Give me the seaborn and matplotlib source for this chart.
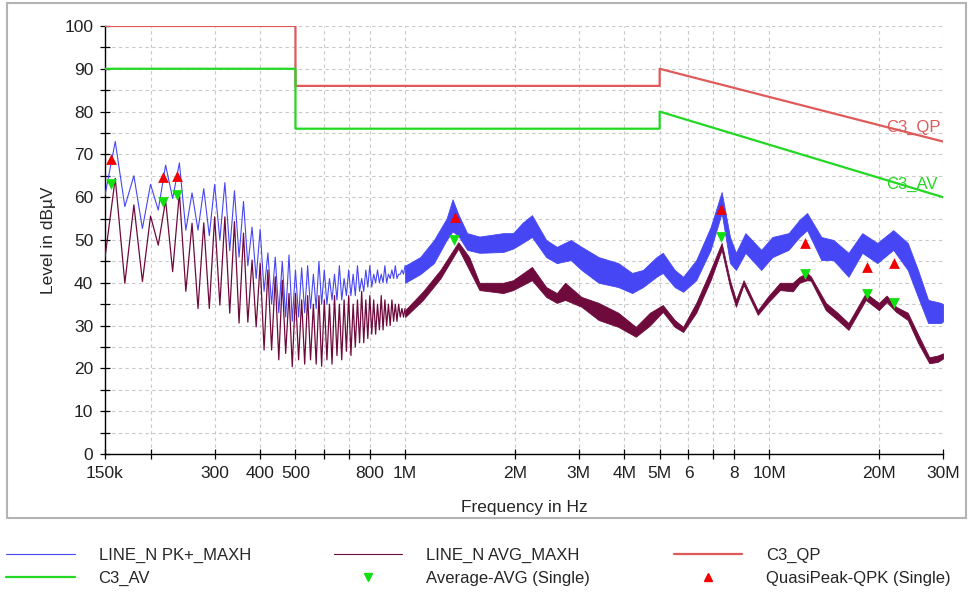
import numpy as np
import pandas as pd
import seaborn as sns
import matplotlib.pyplot as plt
from matplotlib.lines import Line2D
from matplotlib.patches import Rectangle
from matplotlib.ticker import FixedLocator, NullLocator

# --- data --------------------------------------------------------------
# harmonic comb region (150 kHz - 1 MHz), alternating troughs / peaks
comb_khz = [150, 160, 170, 180, 190, 200, 210, 220, 230, 240,
            250, 260, 270, 280, 290, 300, 310, 320, 330, 340,
            350, 360, 370, 380, 390, 400, 410, 420, 430, 440,
            450, 460, 470, 480, 490, 500, 510, 520, 530, 540,
            550, 560, 570, 580, 590, 600, 610, 620, 630, 640,
            650, 660, 670, 680, 690, 700, 710, 720, 730, 740,
            750, 760, 770, 780, 790, 800, 810, 820, 830, 840,
            850, 860, 870, 880, 890, 900, 910, 920, 930, 940,
            950, 960, 970, 980, 990, 1000]
pk_comb_db = [60.5, 73, 57.8, 65, 52.7, 63, 57, 67.5, 59.7, 68,
              52.3, 61, 52.3, 62, 51, 63, 50, 63.4, 47.5, 61.5,
              46, 59, 44, 53, 41, 52.5, 38, 47, 35, 46,
              33, 45, 32, 46.5, 31, 43, 32, 43.5, 33, 44,
              34, 42, 34, 45, 35, 43, 35, 41, 36, 42,
              36, 44, 36, 41, 37, 43, 37, 42, 37, 44,
              38, 41, 38, 43, 39, 44, 39, 42, 40, 43,
              40, 42, 40, 44, 40, 42, 41, 43, 41, 44,
              41, 42, 42, 43, 42, 44]
avg_comb_db = [46, 64.4, 39.9, 58.2, 40.3, 55.6, 48.8, 59.3, 42.6, 61,
               38, 53.9, 34, 54, 34, 55.4, 34.8, 55.4, 32.9, 54.3,
               30.6, 51.6, 30.8, 45.3, 29.7, 44.6, 24.3, 43, 24.3, 41.4,
               22, 40.6, 23.5, 37.5, 20.4, 37.5, 22, 36, 21, 37,
               22, 35, 21, 37, 20.5, 36, 22, 35, 21, 37,
               23, 35, 22, 36, 24, 37, 23, 35, 25, 36,
               26, 38, 26, 36, 27, 37, 28, 36, 28, 35,
               29, 37, 29, 36, 30, 35, 30, 36, 31, 35,
               31, 35, 32, 34, 32, 34]

# broadband noise region (1 - 30 MHz): lower / upper edge of the trace
pk_band_mhz = [1.0, 1.1, 1.2, 1.3, 1.35, 1.4, 1.48, 1.6, 1.86, 1.98,
               2.1, 2.23, 2.44, 2.61, 2.85, 3.05, 3.4, 3.85, 4.2, 4.5,
               4.9, 5.1, 5.5, 5.8, 6.3, 6.9, 7.4, 7.8, 8.1, 8.6,
               9.5, 10.2, 11.3, 12.1, 12.7, 13.9, 15, 16.5, 18, 19.8,
               21.9, 24, 25.6, 27.3, 29.6, 30]
pk_band_lo = [40, 42, 44.6, 50, 52, 51, 47.7, 47, 47.2, 48,
              49.3, 50.7, 46, 44.6, 45.3, 43, 40, 39, 37.6, 39,
              41.4, 42.3, 39, 37.9, 40.6, 47.7, 56.3, 44.6, 43, 47,
              43, 46, 47.7, 50.7, 52.3, 45.3, 45.3, 41.4, 47, 44.6,
              47.7, 43, 36.7, 30.6, 30.6, 31]
pk_band_hi = [44, 46, 50, 55, 59.5, 56, 51.6, 50.8, 51.6, 51.6,
              54, 55.8, 50, 48.4, 50, 48.4, 46, 44.6, 42.3, 43,
              46, 47, 43, 41.4, 45.3, 53, 61.2, 50.7, 47, 51.6,
              47.7, 50.7, 51.6, 54.7, 56.3, 50.7, 50, 47, 51.6, 49.3,
              52.3, 49.3, 43, 36, 35.3, 35]

avg_band_mhz = [1.0, 1.12, 1.25, 1.4, 1.5, 1.6, 1.86, 1.98, 2.23, 2.44,
                2.61, 2.75, 3.05, 3.4, 3.85, 4.3, 4.7, 5.1, 5.5, 5.8,
                6.3, 6.9, 7.4, 7.8, 8.1, 8.5, 9.3, 9.9, 10.7, 11.6,
                12.1, 12.7, 13, 14.3, 15.4, 16.5, 18.4, 20, 21, 22.3,
                24, 25.6, 27.5, 29, 30]
avg_band_lo = [32, 36, 41, 48, 43, 38.3, 37.6, 38.3, 40.6, 36.7,
               35.3, 36, 34.4, 31.3, 29.7, 27.4, 30, 33.2, 29.7, 28.5,
               33, 40.6, 47.7, 39, 34.4, 39.5, 32.5, 35.3, 38.3, 38,
               40, 40.6, 40.5, 33.6, 31.3, 29, 36, 33.6, 35.5, 33.2,
               31.3, 26, 21.2, 21.5, 22.3]
avg_band_hi = [33.6, 38, 43, 49.5, 46, 40, 40, 40.6, 43.7, 39,
               37.6, 40, 36.7, 35.3, 33, 29.7, 33, 34.8, 31.3, 29.7,
               35.3, 43, 49.3, 40.6, 36, 40.6, 33.6, 36.7, 40, 40,
               41.4, 42.3, 41.5, 35.3, 33, 30.6, 37.6, 35.3, 37, 34.4,
               33, 28, 22.6, 23, 23.5]

# limit lines
qp_limit_hz = [150e3, 500e3, 500e3, 5e6, 5e6, 30e6]
qp_limit_db = [100, 100, 86, 86, 90, 73]
av_limit_hz = [150e3, 500e3, 500e3, 5e6, 5e6, 30e6]
av_limit_db = [90, 90, 76, 76, 80, 60]

# single measurements
qpk_hz = [156e3, 216e3, 237e3, 1.37e6, 7.37e6, 12.55e6, 18.6e6, 22.0e6]
qpk_db = [68.9, 64.6, 65.0, 55.4, 57.2, 49.4, 43.8, 44.6]
avg_hz = [156e3, 216e3, 237e3, 1.36e6, 7.37e6, 12.55e6, 18.6e6, 22.0e6]
avg_db = [63.1, 58.8, 60.5, 50.1, 50.8, 42.1, 37.4, 35.2]

xtick_hz = [150e3, 200e3, 300e3, 400e3, 500e3, 600e3, 700e3, 800e3, 1e6,
            2e6, 3e6, 4e6, 5e6, 6e6, 7e6, 8e6, 10e6, 20e6, 30e6]
xtick_labels = ['150k', '', '300', '400', '500', '', '', '800', '1M',
                '2M', '3M', '4M', '5M', '6', '', '8', '10M', '20M', '30M']

# --- colours -------------------------------------------------------------
PK_COL = '#4646F5'
AVG_COL = '#6E0A3C'
QP_COL = '#E05A5A'
AV_COL = '#22D822'

sns.set_style("white")
plt.rcParams['font.family'] = ['Liberation Sans', 'DejaVu Sans']

fig = plt.figure(figsize=(9.69, 5.93), dpi=100)
ax = fig.add_axes([0.1084, 0.2344, 0.8648, 0.7218])
ax.set_xscale('log')

comb_hz = np.array(comb_khz) * 1e3

# traces
sns.lineplot(x=comb_hz, y=pk_comb_db, ax=ax, color=PK_COL, lw=0.8,
             sort=False, estimator=None, zorder=3)
ax.fill_between(np.array(pk_band_mhz) * 1e6, pk_band_lo, pk_band_hi,
                color=PK_COL, lw=0.6, zorder=3)
sns.lineplot(x=comb_hz, y=avg_comb_db, ax=ax, color=AVG_COL, lw=0.9,
             sort=False, estimator=None, zorder=4)
ax.fill_between(np.array(avg_band_mhz) * 1e6, avg_band_lo, avg_band_hi,
                color=AVG_COL, lw=0.6, zorder=4)

# limits
sns.lineplot(x=qp_limit_hz, y=qp_limit_db, ax=ax, color=QP_COL, lw=1.6,
             sort=False, estimator=None, zorder=5)
sns.lineplot(x=av_limit_hz, y=av_limit_db, ax=ax, color=AV_COL, lw=1.6,
             sort=False, estimator=None, zorder=5)
ax.text(20.9e6, 76.3, 'C3_QP', color=QP_COL, fontsize=12, va='center')
ax.text(20.9e6, 63.0, 'C3_AV', color=AV_COL, fontsize=12, va='center')

# markers
sns.scatterplot(x=qpk_hz, y=qpk_db, ax=ax, marker='^', s=60,
                color='#F00000', linewidth=0, zorder=6)
sns.scatterplot(x=avg_hz, y=avg_db, ax=ax, marker='v', s=60,
                color='#10E010', linewidth=0, zorder=6)

# axes styling
ax.set_xlim(150e3, 30e6)
ax.set_ylim(0, 100)
ax.xaxis.set_major_locator(FixedLocator(xtick_hz))
ax.xaxis.set_minor_locator(NullLocator())
ax.set_xticklabels(xtick_labels)
ax.set_yticks(range(0, 101, 10))
ax.set_yticks(range(0, 101, 5), minor=True)
ax.grid(True, which='both', axis='y', color='#c8c8c8', ls=(0, (3, 3)), lw=0.8)
ax.grid(True, which='major', axis='x', color='#c8c8c8', ls=(0, (3, 3)), lw=0.8)
ax.set_axisbelow(True)
for side in ['top', 'right']:
    ax.spines[side].set_visible(False)
for side in ['left', 'bottom']:
    ax.spines[side].set_color('black')
    ax.spines[side].set_linewidth(1.0)
ax.tick_params(which='both', direction='inout', length=7, width=0.9,
               color='black', labelsize=12.5, labelcolor='#222222', pad=5,
               left=True, bottom=True)
ax.set_xlabel('Frequency in Hz', fontsize=12.5, labelpad=14)
ax.set_ylabel('Level in dBµV', fontsize=12.5, labelpad=6)

# gray frame round the plot region
fig.patches.append(Rectangle((7 / 969, 1 - 518 / 593), 959 / 969, 515 / 593,
                             transform=fig.transFigure, fill=False,
                             edgecolor='#b4b4b4', lw=1.5))

# legend
handles = [
    Line2D([], [], color=PK_COL, lw=0.8),
    Line2D([], [], color=AV_COL, lw=1.6),
    Line2D([], [], color=AVG_COL, lw=0.8),
    Line2D([], [], ls='none', marker='v', color='#10E010', ms=6),
    Line2D([], [], color=QP_COL, lw=1.6),
    Line2D([], [], ls='none', marker='^', color='#F00000', ms=6),
]
labels = ['LINE_N PK+_MAXH', 'C3_AV', 'LINE_N AVG_MAXH',
          'Average-AVG (Single)', 'C3_QP', 'QuasiPeak-QPK (Single)']
fig.legend(handles, labels, loc='upper left', bbox_to_anchor=(-0.002, 0.09),
           ncol=3, frameon=False, fontsize=12, handlelength=4.1,
           handletextpad=1.43, columnspacing=5.0, borderpad=0,
           labelspacing=0.45)

fig.savefig('out.png', dpi=100)
